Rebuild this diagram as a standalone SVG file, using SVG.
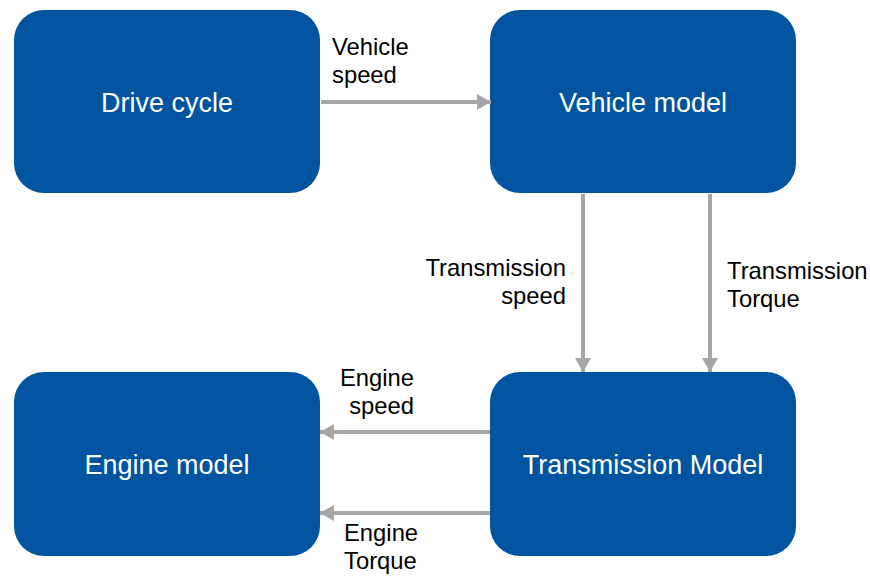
<svg xmlns="http://www.w3.org/2000/svg" width="870" height="577" viewBox="0 0 870 577">
<style>
.box{fill:#0054a0}
.bt{font-family:"Liberation Sans",Arial,sans-serif;font-size:27px;fill:#fff;text-anchor:middle}
.lb{font-family:"Liberation Sans",Arial,sans-serif;font-size:23.8px;fill:#000}
.c{stroke:#a6a6a6;stroke-width:4;fill:none}
</style>
<defs>
<marker id="ah" markerUnits="userSpaceOnUse" markerWidth="14" markerHeight="16" refX="14" refY="8" orient="auto">
<path d="M0,0 L14,8 L0,16 Z" fill="#a6a6a6"/>
</marker>
</defs>
<rect width="870" height="577" fill="#fff"/>
<g id="drive-cycle"><rect class="box" x="14" y="10" width="306" height="183" rx="30"/><text class="bt" x="167" y="112">Drive cycle</text></g>
<g id="vehicle-model"><rect class="box" x="490" y="10" width="306" height="183" rx="30"/><text class="bt" x="643" y="112">Vehicle model</text></g>
<g id="engine-model"><rect class="box" x="14" y="372" width="306" height="184" rx="30"/><text class="bt" x="167" y="474">Engine model</text></g>
<g id="transmission-model"><rect class="box" x="490" y="372" width="306" height="184" rx="30"/><text class="bt" x="643" y="474">Transmission Model</text></g>
<g id="connectors">
<line class="c" x1="321" y1="102" x2="491" y2="102" marker-end="url(#ah)"/>
<line class="c" x1="583" y1="194" x2="583" y2="372" marker-end="url(#ah)"/>
<line class="c" x1="710" y1="194" x2="710" y2="372" marker-end="url(#ah)"/>
<line class="c" x1="490" y1="432" x2="320" y2="432" marker-end="url(#ah)"/>
<line class="c" x1="490" y1="513" x2="320" y2="513" marker-end="url(#ah)"/>
<text class="lb" x="332" y="55">Vehicle</text>
<text class="lb" x="332" y="83">speed</text>
<text class="lb" x="566" y="276" text-anchor="end">Transmission</text>
<text class="lb" x="566" y="304" text-anchor="end">speed</text>
<text class="lb" x="727" y="279">Transmission</text>
<text class="lb" x="727" y="307">Torque</text>
<text class="lb" x="414" y="386" text-anchor="end">Engine</text>
<text class="lb" x="414" y="414" text-anchor="end">speed</text>
<text class="lb" x="344" y="541">Engine</text>
<text class="lb" x="344" y="569">Torque</text>
</g>
</svg>
